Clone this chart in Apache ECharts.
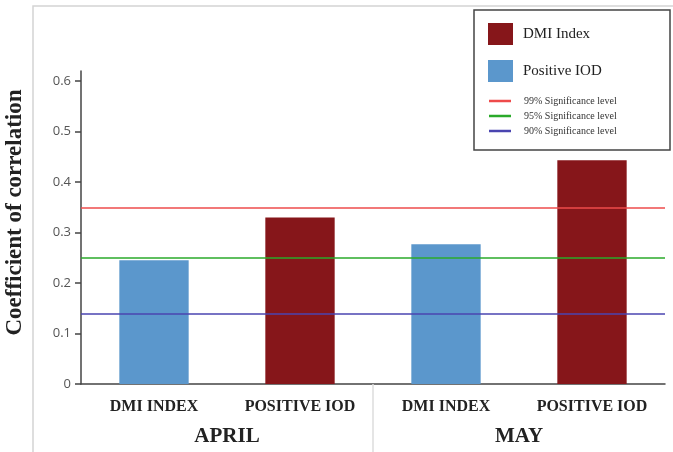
<!DOCTYPE html>
<html>
<head>
<meta charset="utf-8">
<script src="https://cdn.jsdelivr.net/npm/echarts@6/dist/echarts.min.js"></script>
<style>
  html, body { margin: 0; padding: 0; background: #ffffff; }
  #chart { width: 673px; height: 452px; }
</style>
</head>
<body>
<div id="chart"></div>
<script>
// bar categories and month groups
var categories = ['DMI INDEX', 'POSITIVE IOD', 'DMI INDEX', 'POSITIVE IOD']
var months = ['APRIL', 'MAY']
// red bars (legend "DMI Index") and blue bars (legend "Positive IOD")
var redValues = [null, 0.33, null, 0.443]
var blueValues = [0.245, null, 0.277, null]
// significance levels
var sigNames = ['99% Significance level', '95% Significance level', '90% Significance level']
var sigValues = [0.352, 0.246, 0.142]
var sigColors = ['#ee4b4b', '#2aaa2a', '#4a45b0']
var yTicks = [0, 0.1, 0.2, 0.3, 0.4, 0.5, 0.6]

var serif = '"Liberation Serif", "DejaVu Serif", serif'
var myChart = echarts.init(document.getElementById('chart'))

var series = [
  {
    name: 'DMI Index',
    type: 'bar',
    data: redValues,
    barWidth: '47.5%',
    barGap: '-100%',
    itemStyle: { color: '#86161a' },
    z: 2
  },
  {
    name: 'Positive IOD',
    type: 'bar',
    data: blueValues,
    barWidth: '47.5%',
    barGap: '-100%',
    itemStyle: { color: '#5b97cc' },
    z: 2
  }
]
sigNames.forEach(function(n, i) {
  series.push({
    name: n,
    type: 'line',
    data: [],
    color: sigColors[i],
    lineStyle: { color: sigColors[i] },
    z: 3,
    markLine: {
      silent: true,
      symbol: 'none',
      label: { show: false },
      lineStyle: { color: sigColors[i], type: 'solid', width: 1.5 },
      data: [{ yAxis: sigValues[i] }]
    }
  })
})

var option = {
  backgroundColor: '#ffffff',
  animation: false,
  grid: { left: 81, right: 8, top: 71, bottom: 68, containLabel: false, outerBoundsMode: 'none' },
  graphic: [
    {
      type: 'rect',
      shape: { x: 33, y: 6, width: 700, height: 500 },
      style: { fill: 'none', stroke: '#d4d4d4', lineWidth: 1.5 },
      silent: true,
      z: -1
    },
    {
      type: 'rect',
      shape: { x: 474, y: 10, width: 196, height: 140 },
      style: { fill: '#ffffff', stroke: '#444444', lineWidth: 1.5 },
      silent: true,
      z: 10
    }
  ],
  legend: [
    {
      data: ['DMI Index', 'Positive IOD'],
      orient: 'vertical',
      left: 483,
      top: 18,
      itemWidth: 25,
      itemHeight: 22,
      itemGap: 15,
      icon: 'rect',
      z: 20,
      textStyle: { fontFamily: serif, fontSize: 15, color: '#222', padding: [0, 0, 0, 5] }
    },
    {
      data: sigNames,
      orient: 'vertical',
      left: 484,
      top: 91,
      itemWidth: 22,
      itemHeight: 2.5,
      itemGap: 5,
      icon: 'rect',
      z: 20,
      textStyle: { fontFamily: serif, fontSize: 10, color: '#333', padding: [0, 0, 0, 8] }
    }
  ],
  xAxis: [
    {
      type: 'category',
      data: categories,
      axisLine: { lineStyle: { color: '#444', width: 1.5 } },
      axisTick: { show: false },
      axisLabel: {
        margin: 15,
        color: '#222',
        fontFamily: serif,
        fontWeight: 'bold',
        fontSize: 16
      }
    },
    {
      type: 'category',
      data: months,
      position: 'bottom',
      offset: 36,
      axisLine: { show: false },
      axisTick: { show: false },
      axisLabel: {
        margin: 6,
        color: '#222',
        fontFamily: serif,
        fontWeight: 'bold',
        fontSize: 21
      }
    },
    {
      // group separator between APRIL and MAY
      type: 'value',
      min: 0,
      max: months.length,
      interval: 1,
      position: 'bottom',
      axisLine: { show: false },
      axisLabel: { show: false },
      splitLine: { show: false },
      axisTick: {
        show: true,
        customValues: [1],
        length: 68,
        lineStyle: { color: '#dddddd', width: 1.5 }
      }
    }
  ],
  yAxis: {
    type: 'value',
    min: 0,
    max: 0.62,
    interval: 0.1,
    name: 'Coefficient of correlation',
    nameLocation: 'middle',
    nameRotate: 90,
    nameGap: 54,
    nameTextStyle: { fontFamily: serif, fontWeight: 'bold', fontSize: 23, color: '#222', padding: [0, 0, 0, 30] },
    axisLine: { show: true, lineStyle: { color: '#444', width: 1.5 } },
    axisTick: { show: true, length: 6, customValues: yTicks, lineStyle: { color: '#444', width: 1.5 } },
    axisLabel: {
      customValues: yTicks,
      margin: 10,
      color: '#555',
      fontFamily: '"Open Sans", sans-serif',
      fontSize: 13,
      formatter: function(v) { return v === 0 ? '0' : v.toFixed(1) }
    },
    splitLine: { show: false }
  },
  series: series
}
myChart.setOption(option, true)
window.addEventListener('resize', () => {
  myChart.resize()
})
</script>
</body>
</html>
